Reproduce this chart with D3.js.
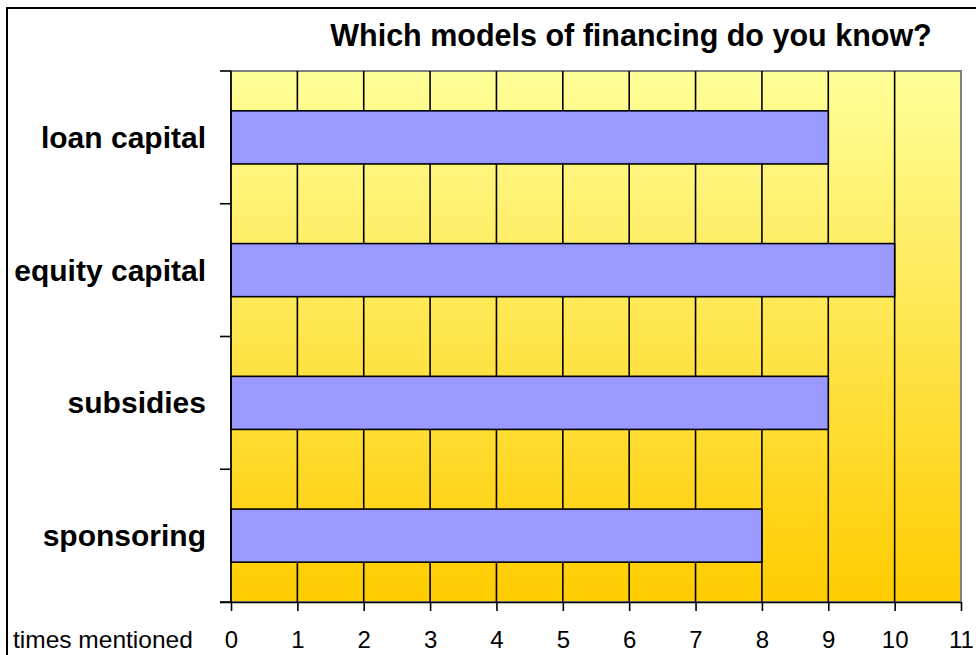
<!DOCTYPE html>
<html>
<head>
<meta charset="utf-8">
<script src="https://cdn.jsdelivr.net/npm/d3@7"></script>
<style>
  html, body { margin: 0; padding: 0; background: #fff; }
  svg { display: block; }
</style>
</head>
<body>
<svg id="chart" width="976" height="655"></svg>
<script>
const categories = ["loan capital", "equity capital", "subsidies", "sponsoring"];
const values = [9, 10, 9, 8];
const xTicks = [0, 1, 2, 3, 4, 5, 6, 7, 8, 9, 10, 11];
const title = "Which models of financing do you know?";
const axisTitle = "times mentioned";

const svg = d3.select("#chart");
const W = 976, H = 655;
const plot = { left: 231, right: 961, top: 71, bottom: 602 };

// Outer frame
svg.append("rect")
  .attr("x", 7).attr("y", 8)
  .attr("width", W + 10).attr("height", H + 10)
  .attr("fill", "#fff").attr("stroke", "#000").attr("stroke-width", 2);

// Gradient
const defs = svg.append("defs");
const grad = defs.append("linearGradient").attr("id", "bg")
  .attr("x1", 0).attr("y1", 0).attr("x2", 0).attr("y2", 1);
grad.append("stop").attr("offset", "0%").attr("stop-color", "#FFFF99");
grad.append("stop").attr("offset", "100%").attr("stop-color", "#FFCC00");

const x = d3.scaleLinear().domain([0, 11]).range([plot.left, plot.right]);
const y = d3.scaleBand().domain(categories)
  .range([plot.top, plot.bottom]).paddingInner(0.6).paddingOuter(0.3);

// Plot background
svg.append("rect")
  .attr("x", plot.left).attr("y", plot.top)
  .attr("width", plot.right - plot.left).attr("height", plot.bottom - plot.top)
  .attr("fill", "url(#bg)").attr("stroke", "#808080").attr("stroke-width", 2);

// Gridlines
svg.append("g").selectAll("line")
  .data(xTicks.filter(d => d > 0 && d < 11))
  .join("line")
  .attr("x1", d => x(d)).attr("x2", d => x(d))
  .attr("y1", plot.top).attr("y2", plot.bottom)
  .attr("stroke", "#000").attr("stroke-width", 1.6);

// Bars
svg.append("g").selectAll("rect")
  .data(categories)
  .join("rect")
  .attr("x", x(0))
  .attr("y", d => y(d))
  .attr("width", (d, i) => x(values[i]) - x(0))
  .attr("height", y.bandwidth())
  .attr("fill", "#9999FF")
  .attr("stroke", "#000").attr("stroke-width", 1.6);

// X axis
const xAxis = d3.axisBottom(x).tickValues(xTicks).tickSize(9).tickPadding(20).tickSizeOuter(0);
const gx = svg.append("g").attr("transform", `translate(0,${plot.bottom})`).call(xAxis);
gx.select(".domain").attr("stroke", "#000").attr("stroke-width", 1.6)
  .attr("d", `M${plot.left - 11},0.5H${plot.right}`);
gx.selectAll(".tick line").attr("stroke", "#000").attr("stroke-width", 1.6);
gx.selectAll(".tick text")
  .attr("font-family", "Liberation Sans, Arial, sans-serif")
  .attr("font-size", 24).attr("fill", "#000");

// Y axis: line + ticks at band boundaries
const step = y.step();
const boundaries = d3.range(categories.length + 1).map(i => plot.top + i * step);
svg.append("line")
  .attr("x1", plot.left).attr("x2", plot.left)
  .attr("y1", plot.top).attr("y2", plot.bottom)
  .attr("stroke", "#000").attr("stroke-width", 1.6);
svg.append("g").selectAll("line")
  .data(boundaries)
  .join("line")
  .attr("x1", plot.left - 11).attr("x2", plot.left)
  .attr("y1", d => d).attr("y2", d => d)
  .attr("stroke", "#000").attr("stroke-width", 1.6);

// Category labels
svg.append("g").selectAll("text")
  .data(categories)
  .join("text")
  .attr("x", 206)
  .attr("y", d => y(d) + y.bandwidth() / 2)
  .attr("dy", "0.35em")
  .attr("text-anchor", "end")
  .attr("font-family", "Liberation Sans, Arial, sans-serif")
  .attr("font-weight", "bold")
  .attr("font-size", 30)
  .text(d => d);

// Title
svg.append("text")
  .attr("x", 631).attr("y", 46)
  .attr("text-anchor", "middle")
  .attr("font-family", "Liberation Sans, Arial, sans-serif")
  .attr("font-weight", "bold")
  .attr("font-size", 30.5)
  .text(title);

// Axis title
svg.append("text")
  .attr("x", 13).attr("y", 648)
  .attr("font-family", "Liberation Sans, Arial, sans-serif")
  .attr("font-size", 24.5)
  .text(axisTitle);
</script>
</body>
</html>
